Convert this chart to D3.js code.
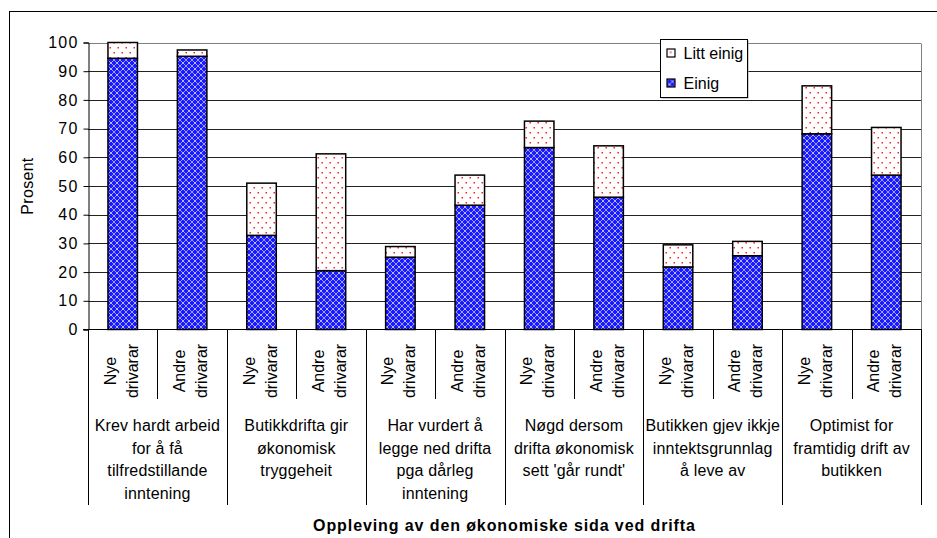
<!DOCTYPE html>
<html>
<head>
<meta charset="utf-8">
<script src="https://cdn.jsdelivr.net/npm/d3@7"></script>
<style>
  body { margin: 0; background: #fff; }
  svg { display: block; font-family: "Liberation Sans", Arial, sans-serif; }
</style>
</head>
<body>
<svg id="chart"></svg>
<script>
const width = 937;
const height = 538;

// data
const groupLabels = [
  ["Krev hardt arbeid", "for å få", "tilfredstillande", "inntening"],
  ["Butikkdrifta gir", "økonomisk", "tryggeheit"],
  ["Har vurdert å", "legge ned drifta", "pga dårleg", "inntening"],
  ["Nøgd dersom", "drifta økonomisk", "sett 'går rundt'"],
  ["Butikken gjev ikkje", "inntektsgrunnlag", "å leve av"],
  ["Optimist for", "framtidig drift av", "butikken"]
];
const driverLabels = [["Nye", "drivarar"], ["Andre", "drivarar"]];
const einig = [94.5, 95.2, 32.8, 20.5, 25.2, 43.3, 63.4, 46.1, 21.8, 25.7, 68.2, 53.8];
const littEinig = [5.5, 2.2, 18.2, 40.7, 3.7, 10.5, 9.2, 17.9, 7.7, 5.0, 16.7, 16.6];
const yTicks = [0, 10, 20, 30, 40, 50, 60, 70, 80, 90, 100];

const svg = d3.select("#chart")
  .attr("width", width)
  .attr("height", height);

const plot = { left: 88, right: 921, top: 42.5, bottom: 329.5 };

// patterns
const defs = svg.append("defs");
const pBlue = defs.append("pattern")
  .attr("id", "pBlue")
  .attr("patternUnits", "userSpaceOnUse")
  .attr("width", 6).attr("height", 6);
pBlue.append("rect").attr("width", 6).attr("height", 6).attr("fill", "#1a1aff");
pBlue.append("path")
  .attr("d", "M0,0 L6,6 M6,0 L0,6")
  .attr("stroke", "#9a9aff")
  .attr("stroke-width", 1);
pBlue.append("rect").attr("x", 2.5).attr("y", 2.5).attr("width", 1).attr("height", 1).attr("fill", "#ffffff");

const pRed = defs.append("pattern")
  .attr("id", "pRed")
  .attr("patternUnits", "userSpaceOnUse")
  .attr("width", 8).attr("height", 10);
pRed.append("rect").attr("width", 8).attr("height", 10).attr("fill", "#fff");
pRed.append("rect").attr("x", 1.5).attr("y", 2).attr("width", 1.5).attr("height", 1.5).attr("fill", "#ff2020");
pRed.append("rect").attr("x", 5.5).attr("y", 7).attr("width", 1.5).attr("height", 1.5).attr("fill", "#ff2020");

// outer chart border
svg.append("rect")
  .attr("x", 9.5).attr("y", 11.5)
  .attr("width", 1000).attr("height", 600)
  .attr("fill", "none")
  .attr("stroke", "#000");

const n = einig.length;
const x = d3.scaleBand()
  .domain(d3.range(n))
  .range([plot.left, plot.right])
  .paddingInner(0.575)
  .paddingOuter(0.2875);

const y = d3.scaleLinear()
  .domain([0, 100])
  .range([plot.bottom, plot.top]);

// gridlines
svg.append("g")
  .selectAll("line")
  .data(yTicks.filter(d => d > 0))
  .join("line")
  .attr("x1", plot.left).attr("x2", plot.right)
  .attr("y1", d => Math.round(y(d)) + 0.5)
  .attr("y2", d => Math.round(y(d)) + 0.5)
  .attr("stroke", d => d === 100 ? "#808080" : "#222");

// right border of plot area
svg.append("line")
  .attr("x1", plot.right + 0.5).attr("x2", plot.right + 0.5)
  .attr("y1", Math.round(y(100)) + 0.5).attr("y2", plot.bottom)
  .attr("stroke", "#808080");

// y axis
const yAxis = svg.append("g")
  .attr("transform", `translate(${plot.left + 0.5},0)`)
  .call(d3.axisLeft(y).tickValues(yTicks).tickSize(5).tickPadding(5));
yAxis.select(".domain").attr("stroke", "#000");
yAxis.selectAll(".tick line").attr("stroke", "#000");
yAxis.selectAll(".tick text")
  .attr("font-size", 16)
  .attr("letter-spacing", 1.2)
  .attr("font-family", "Liberation Sans, Arial, sans-serif")
  .attr("fill", "#000");

svg.append("text")
  .attr("transform", `translate(33,${(plot.top + plot.bottom) / 2}) rotate(-90)`)
  .attr("text-anchor", "middle")
  .attr("font-size", 16)
  .attr("letter-spacing", 0.3)
  .text("Prosent");

// bars
const step = x.step();
const bars = svg.append("g");
bars.selectAll(".einig")
  .data(einig)
  .join("rect")
  .attr("class", "einig")
  .attr("x", (d, i) => x(i))
  .attr("width", x.bandwidth())
  .attr("y", d => y(d))
  .attr("height", d => y(0) - y(d))
  .attr("fill", "url(#pBlue)")
  .attr("stroke", "#000")
  .attr("stroke-width", 1.5);

bars.selectAll(".litt")
  .data(littEinig)
  .join("rect")
  .attr("class", "litt")
  .attr("x", (d, i) => x(i))
  .attr("width", x.bandwidth())
  .attr("y", (d, i) => y(einig[i] + d))
  .attr("height", (d, i) => y(einig[i]) - y(einig[i] + d))
  .attr("fill", "url(#pRed)")
  .attr("stroke", "#000")
  .attr("stroke-width", 1.5);

// category axis line
svg.append("line")
  .attr("x1", plot.left - 5).attr("x2", plot.right + 1)
  .attr("y1", plot.bottom).attr("y2", plot.bottom)
  .attr("stroke", "#000");

// separators below axis
const sepIdx = d3.range(n + 1);
svg.append("g")
  .selectAll("line")
  .data(sepIdx)
  .join("line")
  .attr("x1", i => Math.round(plot.left + i * step) + 0.5)
  .attr("x2", i => Math.round(plot.left + i * step) + 0.5)
  .attr("y1", plot.bottom)
  .attr("y2", i => i % 2 === 0 ? 505 : 399)
  .attr("stroke", "#000");

// rotated driver labels
const dl = svg.append("g").attr("font-size", 16);
d3.range(n).forEach(i => {
  const cx = x(i) + x.bandwidth() / 2;
  const t = dl.append("text")
    .attr("transform", `translate(${cx},371) rotate(-90)`)
    .attr("text-anchor", "middle");
  driverLabels[i % 2].forEach((line, k) => {
    t.append("tspan")
      .attr("x", 0)
      .attr("y", k === 0 ? -7 : 15)
      .text(line);
  });
});

// group labels
const gl = svg.append("g")
  .attr("font-size", 16)
  .attr("letter-spacing", 0.15)
  .attr("text-anchor", "middle");
groupLabels.forEach((lines, g) => {
  const cx = plot.left + (g * 2 + 1) * step;
  const t = gl.append("text");
  lines.forEach((line, k) => {
    t.append("tspan")
      .attr("x", cx)
      .attr("y", 431 + k * 22.6)
      .text(line);
  });
});

// x axis title
svg.append("text")
  .attr("x", (plot.left + plot.right) / 2)
  .attr("y", 531)
  .attr("text-anchor", "middle")
  .attr("font-size", 16)
  .attr("font-weight", "bold")
  .attr("letter-spacing", 0.9)
  .text("Oppleving av den økonomiske sida ved drifta");

// legend
const legend = svg.append("g").attr("transform", "translate(660.5,39.5)");
legend.append("rect")
  .attr("x", 1).attr("y", 1)
  .attr("width", 87).attr("height", 58)
  .attr("fill", "#999");
legend.append("rect")
  .attr("width", 87).attr("height", 58)
  .attr("fill", "#fff")
  .attr("stroke", "#000");
const legendItems = [
  { label: "Litt einig", fill: "url(#pRed)" },
  { label: "Einig", fill: "url(#pBlue)" }
];
legendItems.forEach((d, i) => {
  legend.append("rect")
    .attr("x", 6.5).attr("y", 9.5 + i * 30)
    .attr("width", 8).attr("height", 8)
    .attr("fill", d.fill)
    .attr("stroke", "#000")
    .attr("stroke-width", 1.2);
  legend.append("text")
    .attr("x", 23).attr("y", 19 + i * 30)
    .attr("font-size", 16)
    .text(d.label);
});
</script>
</body>
</html>
